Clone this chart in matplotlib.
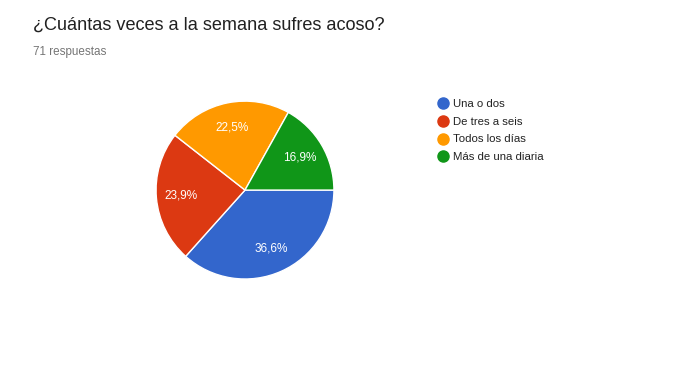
import matplotlib.pyplot as plt
from matplotlib.lines import Line2D

plt.rcParams['font.family'] = ['Liberation Sans', 'DejaVu Sans']

categories = ['Una o dos', 'De tres a seis', 'Todos los días', 'Más de una diaria']
counts = [26, 17, 16, 12]
colors = ['#3366cc', '#dc3912', '#ff9900', '#109618']
total = 71

fig = plt.figure(figsize=(6.98, 3.66), dpi=100)
fig.patch.set_facecolor('white')

ax = fig.add_axes([0.2235, 0.2377, 0.255, 0.486])
wedges, texts, autotexts = ax.pie(
    counts, colors=colors, startangle=0, counterclock=False,
    autopct=lambda p: ('%.1f%%' % p).replace('.', ','),
    pctdistance=0.72,
    wedgeprops=dict(edgecolor='white', linewidth=1),
    textprops=dict(color='white', fontsize=8.5))
ax.set_xlim(-1, 1)
ax.set_ylim(-1, 1)
ax.set_aspect('equal')

fig.text(33 / 698, 1 - 25 / 366, '¿Cuántas veces a la semana sufres acoso?',
         fontsize=13.1, color='#212121', va='center', ha='left')
fig.text(33 / 698, 1 - 52 / 366, '%d respuestas' % total,
         fontsize=8.4, color='#757575', va='center', ha='left')

handles = [Line2D([], [], marker='o', linestyle='none', markersize=8,
                  markerfacecolor=c, markeredgecolor=c) for c in colors]
leg = fig.legend(handles, categories, loc='upper left',
                 bbox_to_anchor=(436 / 698, 1 - 99 / 366), frameon=False,
                 fontsize=8.2, handletextpad=0.3, labelspacing=0.68,
                 handlelength=1.2, borderaxespad=0, borderpad=0)
for t in leg.get_texts():
    t.set_color('#222222')

fig.savefig('out.png', dpi=100)
